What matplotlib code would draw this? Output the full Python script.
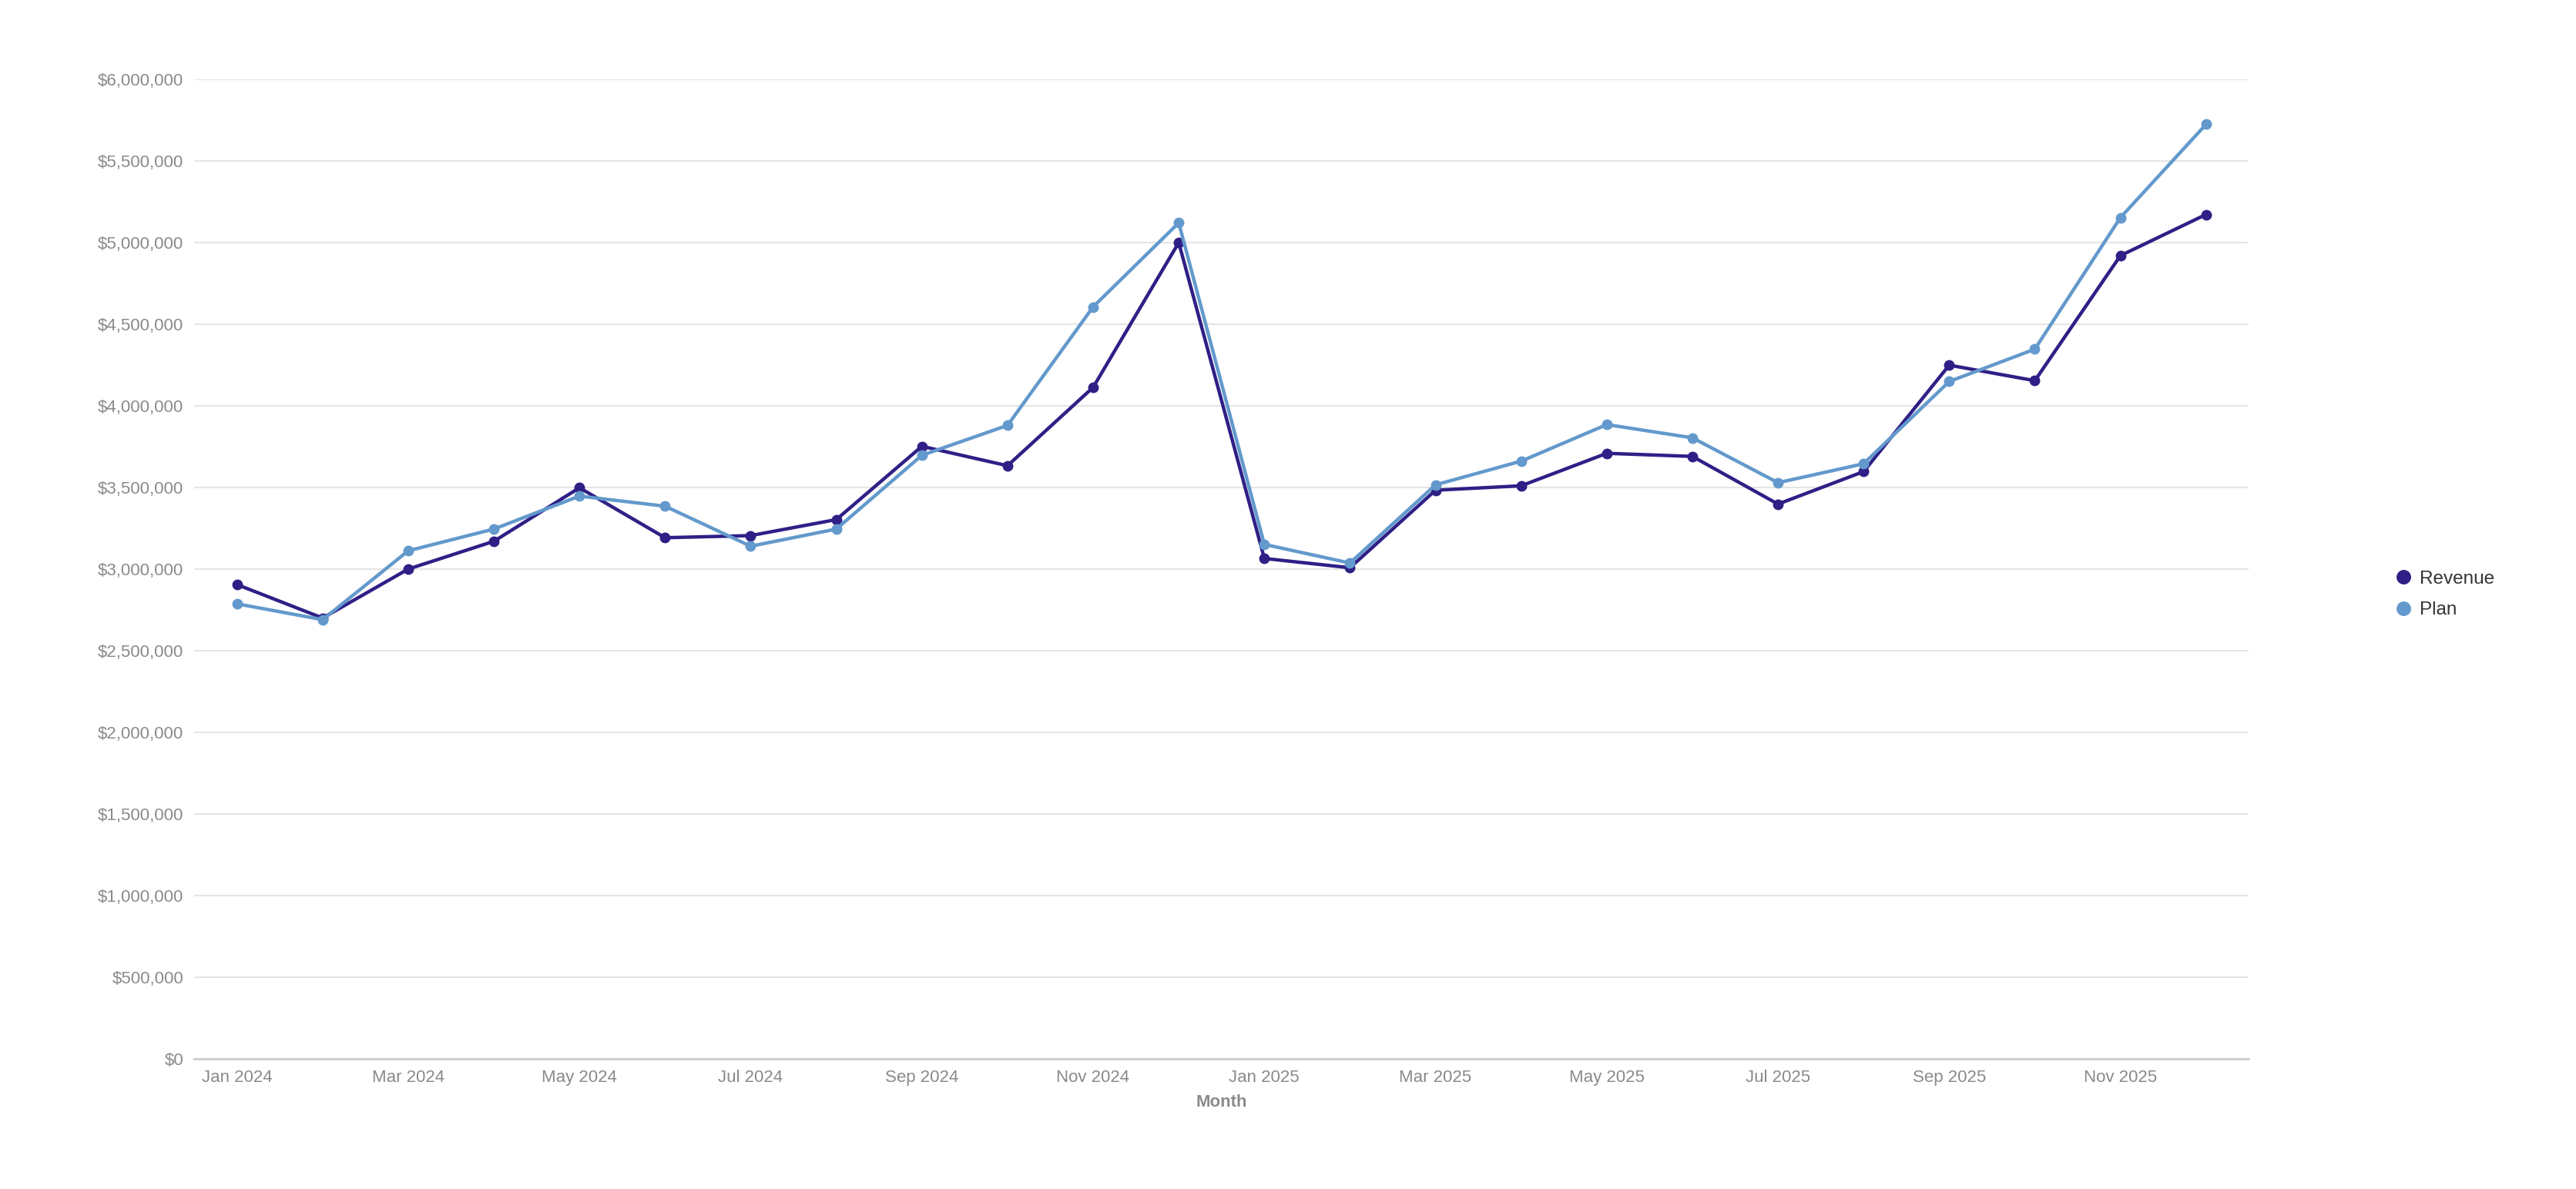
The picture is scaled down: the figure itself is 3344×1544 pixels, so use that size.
import matplotlib.pyplot as plt
from matplotlib.ticker import FuncFormatter, MultipleLocator

plt.rcParams['font.family'] = ['Liberation Sans', 'DejaVu Sans']

months = ['Jan 2024', 'Feb 2024', 'Mar 2024', 'Apr 2024', 'May 2024', 'Jun 2024',
          'Jul 2024', 'Aug 2024', 'Sep 2024', 'Oct 2024', 'Nov 2024', 'Dec 2024',
          'Jan 2025', 'Feb 2025', 'Mar 2025', 'Apr 2025', 'May 2025', 'Jun 2025',
          'Jul 2025', 'Aug 2025', 'Sep 2025', 'Oct 2025', 'Nov 2025', 'Dec 2025']
revenue = [2905000, 2700000, 3000000, 3170000, 3498000, 3192000,
           3205000, 3303000, 3752000, 3633000, 4113000, 5000000,
           3065000, 3008000, 3483000, 3510000, 3709000, 3690000,
           3398000, 3597000, 4249000, 4154000, 4920000, 5172000]
plan = [2787000, 2690000, 3112000, 3245000, 3447000, 3385000,
        3140000, 3245000, 3697000, 3880000, 4606000, 5121000,
        3151000, 3037000, 3516000, 3661000, 3885000, 3804000,
        3529000, 3645000, 4149000, 4347000, 5153000, 5724000]

rev_color = '#2f1f86'
plan_color = '#6399cc'
txt_gray = '#8a8a8a'

fig = plt.figure(figsize=(33.44, 15.44), dpi=100)
ax = fig.add_axes([0.0754, 0.1095, 0.873 - 0.0754, 0.9333 - 0.1095])

x = list(range(len(months)))
ax.plot(x, revenue, color=rev_color, lw=3.2, marker='o', ms=9, label='Revenue', zorder=3)
ax.plot(x, plan, color=plan_color, lw=3.2, marker='o', ms=9, label='Plan', zorder=3)

ax.set_xlim(-0.5, len(months) - 0.5)
ax.set_ylim(0, 6000000)
ax.yaxis.set_major_locator(MultipleLocator(500000))
ax.yaxis.set_major_formatter(FuncFormatter(lambda v, p: '${:,.0f}'.format(v)))
ax.set_xticks(x[::2])
ax.set_xticklabels(months[::2])

ax.grid(axis='y', color='#e5e5e5', lw=1.5)
ax.set_axisbelow(True)
for s in ['top', 'right', 'left']:
    ax.spines[s].set_visible(False)
ax.spines['bottom'].set_color('#cccccc')
ax.spines['bottom'].set_linewidth(2)
ax.tick_params(axis='both', length=0, labelsize=16, colors=txt_gray)
ax.tick_params(axis='y', pad=10)
ax.tick_params(axis='x', pad=10)
ax.set_xlabel('Month', fontsize=16, color=txt_gray, fontweight='bold', labelpad=8)

leg = ax.legend(loc='center left', bbox_to_anchor=(0.9265, 0.5), bbox_transform=fig.transFigure,
                frameon=False, fontsize=17.5, handlelength=0.8, handletextpad=0.45,
                labelspacing=0.75, borderpad=0, markerscale=1.4)
for h in leg.legend_handles:
    h.set_linestyle('none')
for t in leg.get_texts():
    t.set_color('#333333')

fig.savefig('out.png', dpi=100, facecolor='white')
